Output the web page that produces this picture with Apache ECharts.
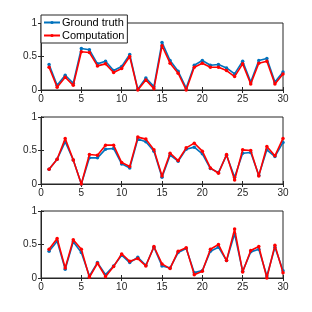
<!DOCTYPE html>
<html><head><meta charset="utf-8">
<script src="https://cdn.jsdelivr.net/npm/echarts@6/dist/echarts.min.js"></script>
<style>html,body{margin:0;padding:0;background:#fff}#c{width:312px;height:312px}</style>
</head><body><div id="c"></div>
<script>
const xs = [1,2,3,4,5,6,7,8,9,10,11,12,13,14,15,16,17,18,19,20,21,22,23,24,25,26,27,28,29,30];
const truth1 = [0.38,0.07,0.22,0.10,0.62,0.60,0.39,0.43,0.29,0.35,0.53,0.01,0.18,0.05,0.71,0.44,0.28,0.03,0.37,0.44,0.37,0.38,0.33,0.24,0.43,0.12,0.44,0.47,0.12,0.27];
const comp1  = [0.34,0.04,0.19,0.07,0.57,0.56,0.36,0.39,0.26,0.32,0.50,0.00,0.15,0.02,0.66,0.40,0.25,0.00,0.34,0.40,0.34,0.34,0.29,0.20,0.39,0.09,0.40,0.43,0.09,0.24];
const truth2 = [0.22,0.37,0.63,0.36,0.00,0.39,0.39,0.52,0.53,0.30,0.24,0.67,0.63,0.49,0.10,0.43,0.34,0.52,0.55,0.45,0.23,0.17,0.43,0.10,0.46,0.47,0.13,0.51,0.41,0.62];
const comp2  = [0.22,0.37,0.68,0.36,0.00,0.44,0.43,0.58,0.58,0.32,0.26,0.70,0.67,0.51,0.12,0.46,0.35,0.54,0.61,0.49,0.24,0.16,0.44,0.06,0.51,0.50,0.12,0.56,0.42,0.68];
const truth3 = [0.40,0.55,0.13,0.54,0.38,0.03,0.23,0.05,0.18,0.34,0.23,0.31,0.19,0.46,0.18,0.15,0.38,0.44,0.08,0.11,0.40,0.46,0.26,0.66,0.10,0.39,0.43,0.03,0.46,0.11];
const comp3  = [0.43,0.59,0.15,0.57,0.43,0.01,0.22,0.02,0.17,0.36,0.25,0.29,0.18,0.47,0.21,0.14,0.40,0.45,0.05,0.10,0.43,0.50,0.26,0.73,0.09,0.41,0.47,0.00,0.49,0.08];
const seriesNames = ['Ground truth','Computation'];
const xTicks = {min:0, max:30, interval:5};
const yTicks = {min:0, max:1, interval:0.5};

const BLUE = '#0072BD', RED = '#FF0000', AX = '#262626';
const tops = [23, 117, 211];
const H = 67;
const font = 'Liberation Sans, Arial, sans-serif';
const grids = [], xAxes = [], yAxes = [], series = [];
const panels = [[truth1, comp1],[truth2, comp2],[truth3, comp3]];
panels.forEach((p, i) => {
  grids.push({left:41, right:29, top:tops[i], height:H, show:true, borderColor:AX, borderWidth:1, backgroundColor:'#fff'});
  const xb = {type:'value', gridIndex:i, min:xTicks.min, max:xTicks.max, interval:xTicks.interval,
    axisLine:{show:true, lineStyle:{color:AX, width:1}}, splitLine:{show:false},
    axisTick:{show:true, inside:true, length:3, lineStyle:{color:AX}}};
  xAxes.push(Object.assign({}, xb, {position:'bottom',
    axisLabel:{show:true, color:AX, fontSize:10, fontFamily:font, margin:4}}));
  xAxes.push(Object.assign({}, xb, {position:'top', axisLabel:{show:false}}));
  const yb = {type:'value', gridIndex:i, min:yTicks.min, max:yTicks.max, interval:yTicks.interval,
    axisLine:{show:true, lineStyle:{color:AX, width:1}}, splitLine:{show:false},
    axisTick:{show:true, inside:true, length:3, lineStyle:{color:AX}}};
  yAxes.push(Object.assign({}, yb, {position:'left',
    axisLabel:{show:true, color:AX, fontSize:10, fontFamily:font, margin:4}}));
  yAxes.push(Object.assign({}, yb, {position:'right', axisLabel:{show:false}}));
  const cols = [BLUE, RED];
  p.forEach((arr, k) => {
    series.push({type:'line', name:seriesNames[k], xAxisIndex:2*i, yAxisIndex:2*i,
      data: xs.map((x, j) => [x, arr[j]]),
      symbol:'circle', symbolSize:3.5, showSymbol:true,
      lineStyle:{color:cols[k], width:1.6}, itemStyle:{color:cols[k]},
      animation:false, z: 2 + k});
  });
});

const chart = echarts.init(document.getElementById('c'), null, {renderer:'canvas'});
chart.setOption({
  animation:false,
  grid: grids, xAxis: xAxes, yAxis: yAxes, series: series,
  legend: {data: seriesNames, orient:'vertical', left:41, top:15,
    backgroundColor:'#fff', borderColor:AX, borderWidth:1, padding:[2,3,2,2],
    itemGap:2, itemWidth:16, itemHeight:4,
    textStyle:{fontSize:11, color:'#000', fontFamily:font, padding:[0,0,0,-3]}}
});
</script></body></html>
